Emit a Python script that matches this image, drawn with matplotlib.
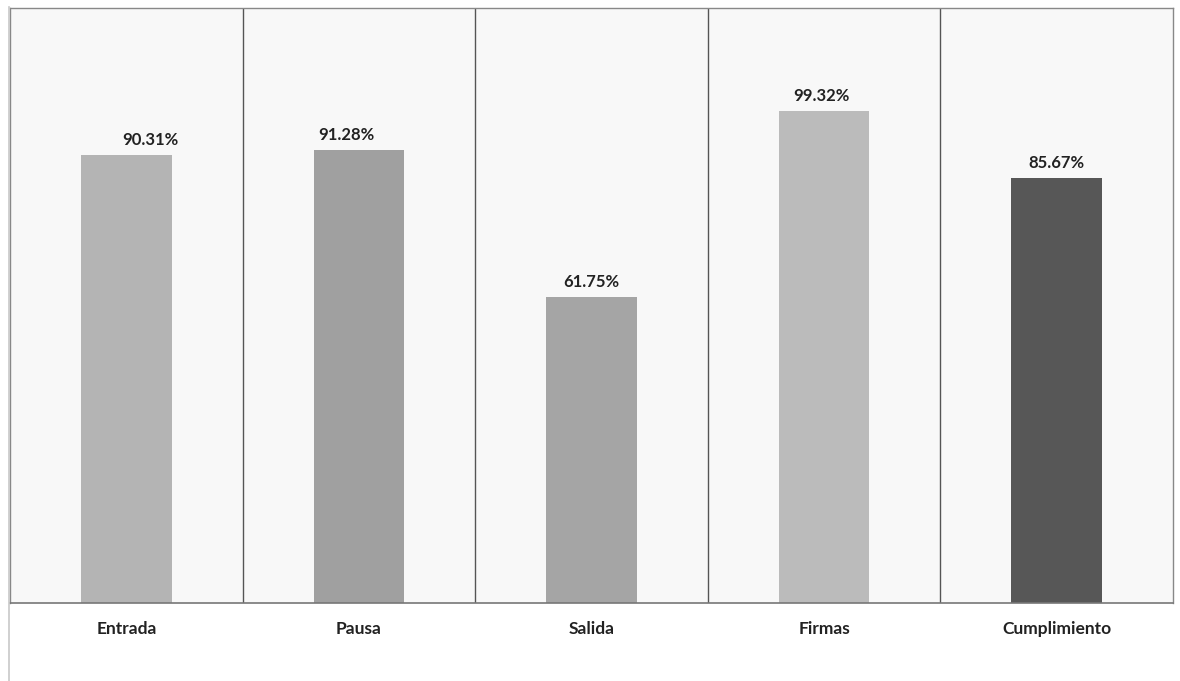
import matplotlib
matplotlib.use("Agg")
import matplotlib.pyplot as plt
from matplotlib.lines import Line2D

# datos
categorias = ["Entrada", "Pausa", "Salida", "Firmas", "Cumplimiento"]
porcentajes = [90.31, 91.28, 61.75, 99.32, 85.67]
colores = ["#b4b4b4", "#a0a0a0", "#a5a5a5", "#bbbbbb", "#575757"]
# desplazamiento horizontal de las etiquetas (puntos), como en el original
desplaz_etiqueta = [17, -9, 0, -2, 0]

plt.rcParams["font.family"] = ["Lato", "DejaVu Sans"]

fig = plt.figure(figsize=(11.8, 6.81), dpi=100)
fig.patch.set_facecolor("white")
ax = fig.add_axes([0.0085, 0.1145, 0.9856, 0.8737])
ax.set_facecolor("#f8f8f8")

x = list(range(len(categorias)))
bars = ax.bar(x, porcentajes, width=0.39, color=colores)

ax.set_xlim(-0.5, len(categorias) - 0.5)
ax.set_ylim(0, 120)

# etiquetas de valor
for b, v, dx in zip(bars, porcentajes, desplaz_etiqueta):
    ax.annotate(f"{v:.2f}%", (b.get_x() + b.get_width() / 2, v),
                xytext=(dx, 5), textcoords="offset points",
                ha="center", va="bottom", fontsize=12, fontweight="bold",
                color="#222222")

# separadores entre categorias
for i in range(1, len(categorias)):
    ax.axvline(i - 0.5, color="#555555", lw=1.0)

ax.set_yticks([])
ax.set_xticks(x)
ax.set_xticklabels(categorias, fontsize=12.5, fontweight="bold", color="#222222")
ax.tick_params(axis="x", length=0, pad=13)

for s in ["left", "right", "top"]:
    ax.spines[s].set_color("#888888")
    ax.spines[s].set_linewidth(1.0)
ax.spines["bottom"].set_color("#777777")
ax.spines["bottom"].set_linewidth(1.2)

# borde exterior izquierdo que sigue por debajo
fig.add_artist(Line2D([0.0075, 0.0075], [0.0, 0.99], color="#c8c8c8", lw=1.2))

fig.savefig("out.png", dpi=100, facecolor="white")
